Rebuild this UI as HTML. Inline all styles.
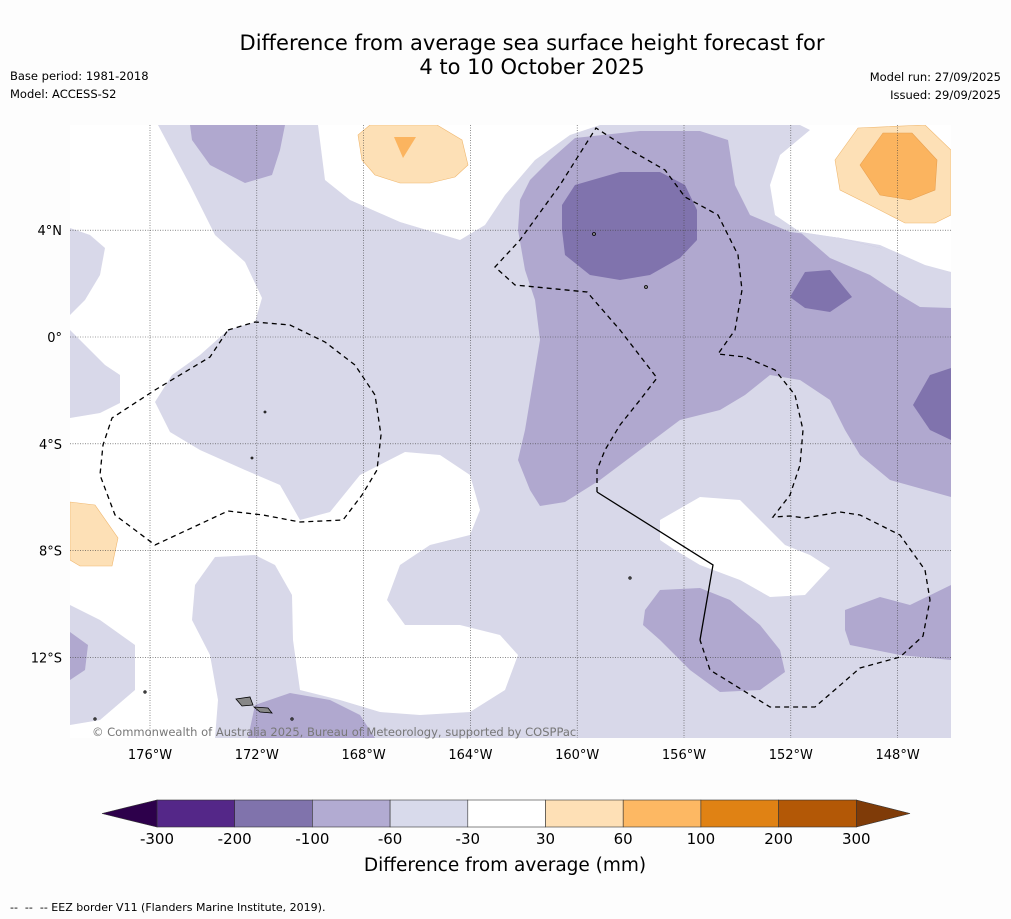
<!DOCTYPE html>
<html><head><meta charset="utf-8"><style>
body{margin:0;background:#fdfdfd;width:1011px;height:919px;overflow:hidden;font-family:"DejaVu Sans",sans-serif}
svg{position:absolute;left:0;top:0}
</style></head><body>
<svg width="1011" height="919" font-family="DejaVu Sans, sans-serif">
<rect width="1011" height="919" fill="#fdfdfd"/>
<text x="532" y="50" font-size="21" text-anchor="middle">Difference from average sea surface height forecast for</text>
<text x="532" y="74" font-size="21" text-anchor="middle">4 to 10 October 2025</text>
<text x="10" y="80" font-size="11.5">Base period: 1981-2018</text>
<text x="10" y="98" font-size="11.5">Model: ACCESS-S2</text>
<text x="1001" y="81" font-size="11.5" text-anchor="end">Model run: 27/09/2025</text>
<text x="1001" y="99" font-size="11.5" text-anchor="end">Issued: 29/09/2025</text>

<g>
<clipPath id="mc"><rect x="70" y="125" width="881" height="613"/></clipPath>
<g clip-path="url(#mc)">
<rect x="70" y="125" width="881" height="613" fill="#d8d8e9"/>
<g fill="#ffffff">
<polygon points="70,125 158,125 190,185 215,235 245,262 262,298 255,322 228,330 200,355 172,375 155,402 170,432 200,450 245,470 280,485 300,520 330,512 360,475 405,452 440,455 470,475 480,510 470,535 430,545 400,565 387,600 405,625 460,625 500,635 518,655 505,690 470,712 420,715 380,712 340,700 300,690 293,640 292,595 275,565 255,555 215,557 195,585 192,620 210,655 218,700 215,738 70,738"/>
<polygon points="318,125 600,125 570,135 535,160 505,195 485,225 460,240 400,222 350,200 325,180"/>
<polygon points="800,125 951,125 951,272 925,265 880,245 840,238 800,232 775,215 770,185 780,155 810,130"/>
<polygon points="660,520 700,497 740,500 760,520 785,545 810,555 830,568 805,595 770,597 740,580 700,565 675,550 660,540"/>
</g>
<g fill="#d8d8e9">
<polygon points="70,228 90,235 105,248 100,275 85,300 70,315"/>
<polygon points="70,330 85,345 105,365 120,375 120,403 100,413 70,418"/>
<polygon points="70,605 100,620 135,645 135,690 100,720 70,725"/>
</g>
<g fill="#b0a8cf">
<polygon points="575,138 640,131 700,131 728,140 735,185 750,215 790,232 840,238 880,248 920,272 951,275 951,497 890,480 860,455 845,430 830,400 800,380 770,375 745,395 720,410 680,420 640,450 600,480 565,502 540,506 530,490 518,460 525,430 530,400 540,340 535,300 525,270 518,230 520,200 530,180 550,160"/>
<polygon points="190,125 285,125 280,150 272,175 245,183 210,165 192,140"/>
<polygon points="248,738 255,705 290,693 330,700 360,715 375,738"/>
<polygon points="645,610 660,590 700,588 730,600 760,625 780,650 785,672 760,690 720,692 690,670 660,640 643,625"/>
<polygon points="845,610 880,597 910,605 951,585 951,660 900,655 850,645 845,630"/>
<polygon points="70,632 88,645 85,670 70,680"/>
</g>
<polygon fill="#d8d8e9" points="800,232 840,238 880,248 920,268 951,272 951,308 920,307 900,295 870,275 830,258"/>
<g fill="#8073ad">
<polygon points="562,205 575,185 620,172 660,172 685,185 697,210 697,240 680,258 650,275 620,280 590,275 565,255 562,230"/>
<polygon points="790,297 805,272 830,270 852,297 830,312 805,308"/>
<polygon points="913,405 930,375 951,368 951,440 930,430"/>
</g>
<g>
<polygon fill="#fde0b6" stroke="#f0b870" stroke-width="0.6" points="358,135 370,125 437,125 462,140 468,165 455,177 430,183 400,183 375,175 362,160"/>
<polygon fill="#fbb45f" points="394,137 416,137 403,158"/>
<polygon fill="#fde0b6" stroke="#f0b870" stroke-width="0.6" points="835,160 858,128 925,125 951,150 951,215 935,223 905,223 870,205 840,190"/>
<polygon fill="#fbb45f" stroke="#e8a050" stroke-width="0.6" points="860,165 883,133 912,133 937,160 935,190 910,200 880,195"/>
<polygon fill="#fde0b6" stroke="#f0b870" stroke-width="0.6" points="70,502 95,505 118,538 112,566 80,566 70,560"/>
</g>
<g id="grid" stroke="#444" stroke-width="0.6" stroke-dasharray="1,1.5"></g>
<g fill="none" stroke="#000" stroke-width="1.3">
<polyline stroke-dasharray="5,4" points="597,492 597,470 605,450 620,425 640,400 657,378 620,330 587,292 515,285 495,267 520,240 560,185 596,128 630,150 665,170 685,197 718,215 738,255 742,290 735,330 718,354 745,357 775,370 795,395 803,430 800,465 790,495 773,517 790,516 805,518 840,512 860,515 900,535 925,570 930,600 923,636 900,657 860,668 815,707 770,707 710,670 700,640"/>
<polyline points="597,492 713,565 700,640"/>
<polygon stroke-dasharray="5,4" points="228,330 255,322 290,325 325,342 355,365 375,395 381,435 377,470 362,495 343,520 300,522 263,515 228,511 155,545 115,515 100,475 103,445 112,418 155,390 210,357"/>
</g>
<g fill="#888" stroke="#000" stroke-width="0.8">
<polygon points="236,699 250,697 253,705 242,706"/>
<polygon points="254,707 268,708 272,713 260,712"/>
<circle cx="594" cy="234" r="1.5"/><circle cx="646" cy="287" r="1.5"/><circle cx="265" cy="412" r="1"/><circle cx="252" cy="458" r="1"/><circle cx="145" cy="692" r="1.2"/><circle cx="630" cy="578" r="1.2"/><circle cx="95" cy="719" r="1.2"/><circle cx="292" cy="719" r="1.2"/>
</g>
</g>
<text x="92" y="736" font-size="11.5" fill="#777">© Commonwealth of Australia 2025, Bureau of Meteorology, supported by COSPPac</text>
<g id="axlabels" font-size="13"></g>
</g>

<g id="cbar"></g>
<text x="505" y="871" font-size="18.5" text-anchor="middle">Difference from average (mm)</text>
<text x="10" y="911" font-size="11" xml:space="preserve">--  --  -- EEZ border V11 (Flanders Marine Institute, 2019).</text>
</svg>
<script>
const lonTicks=[-176,-172,-168,-164,-160,-156,-152,-148];
const latTicks=[4,0,-4,-8,-12];
const levels=[-300,-200,-100,-60,-30,30,60,100,200,300];
const levelColors=["#542788","#8073ac","#b2abd2","#d8daeb","#ffffff","#fee0b6","#fdb863","#e08214","#b35806"];
const NS="http://www.w3.org/2000/svg";
const xLon=l=>150+(l+176)*26.7;
const yLat=l=>337-l*26.7;
function mk(t,a,p){const e=document.createElementNS(NS,t);for(const k in a)e.setAttribute(k,a[k]);p.appendChild(e);return e;}
const g=document.getElementById('grid'),ax=document.getElementById('axlabels');
lonTicks.forEach(l=>{const x=xLon(l);
const ln=mk('line',{x1:x,x2:x,y1:125,y2:738},g);


const t=mk('text',{x:x,y:759,'text-anchor':'middle'},ax);t.textContent=Math.abs(l)+'°W';

});
latTicks.forEach(l=>{const y=yLat(l);
const ln=mk('line',{x1:70,x2:951,y1:y,y2:y},g);


const t=mk('text',{x:62,y:y+5,'text-anchor':'end'},ax);t.textContent=l===0?'0°':Math.abs(l)+'°'+(l>0?'N':'S');

});
const cb=document.getElementById('cbar');const x0=157,w=77.7,y0=800,h=27;
const cx=i=>x0+i*w;
levelColors.forEach((c,i)=>{const r=mk('rect',{x:cx(i),y:y0,width:w,height:h,fill:c,stroke:'#333','stroke-width':0.6},cb);

});
const tl=mk('polygon',{points:`${x0},${y0} ${x0},${y0+h} 102,${y0+h/2}`,fill:'#2d004b',stroke:'#333','stroke-width':0.6},cb);


const xe=cx(levelColors.length);
const tr=mk('polygon',{points:`${xe},${y0} ${xe},${y0+h} 910,${y0+h/2}`,fill:'#7f3b08',stroke:'#333','stroke-width':0.6},cb);


levels.forEach((v,i)=>{const t=mk('text',{x:cx(i),y:844,'font-size':15,'text-anchor':'middle'},cb);t.textContent=v;

});
</script>
</body></html>
